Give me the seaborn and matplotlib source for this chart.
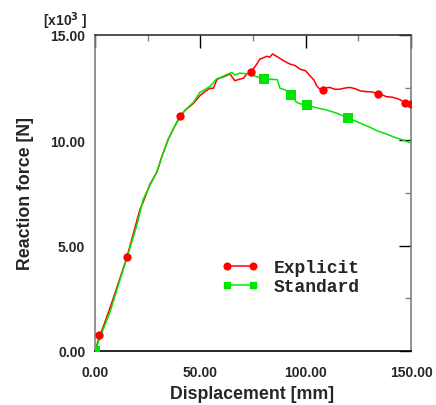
import matplotlib
matplotlib.use("Agg")
import matplotlib.pyplot as plt
from matplotlib.lines import Line2D
from matplotlib.ticker import MultipleLocator, FormatStrFormatter
import seaborn as sns

# Explicit run (force in units of 1e3 N)
explicit_x = [0, 1.9, 5, 8, 11, 15, 18, 21.4, 23, 26, 29.3, 32, 34.8, 37, 40.3, 43, 46.7,
              49.8, 52, 54.6, 56.2, 57.7, 59, 61.7, 64.1, 65.5, 66.4, 68.8, 70.5, 72, 74, 76,
              78.3, 80, 81.5, 83, 84.3, 86, 87.8, 90, 92.5, 95, 97.3, 100, 102, 104, 105.2,
              106.5, 108.1, 110, 111.5, 114, 116.3, 118.5, 121, 123.5, 125.8, 129, 131.5,
              134.2, 136, 138.4, 141, 143.2, 145, 147.1, 148.5, 150]
explicit_y = [0, 0.62, 1.45, 2.3, 3.2, 4.4, 5.5, 6.74, 7.1, 7.9, 8.48, 9.3, 10.06, 10.5, 11.14,
              11.45, 11.75, 12.12, 12.3, 12.47, 12.47, 12.85, 12.95, 13.04, 13.15, 12.95,
              12.83, 12.91, 12.95, 13.15, 13.26, 13.5, 13.86, 13.92, 13.99, 13.95, 14.1,
              14.0, 13.89, 13.75, 13.62, 13.55, 13.38, 13.3, 13.07, 12.85, 12.59, 12.45,
              12.39, 12.5, 12.51, 12.42, 12.43, 12.48, 12.51, 12.45, 12.35, 12.31, 12.3,
              12.21, 12.17, 12.07, 12.05, 11.99, 11.92, 11.77, 11.8, 11.71]
explicit_mx = [1.9, 15.0, 40.3, 74.0, 108.1, 134.2, 147.1, 150]
explicit_my = [0.77, 4.47, 11.14, 13.26, 12.39, 12.21, 11.77, 11.71]

# Standard run
standard_x = [0, 3, 7.1, 11, 15, 19.8, 22.9, 26, 29.3, 32, 34.8, 38, 40.3, 43, 46.7, 49.8,
              52, 54.6, 57.7, 60, 62.5, 64.9, 66.4, 68.8, 72, 76, 80, 83, 86.5, 87.8, 90.2,
              92.9, 95.7, 98, 100.8, 105, 110, 115, 120.1, 125, 130.5, 134, 138.4, 142, 146, 150]
standard_y = [0, 0.8, 1.84, 3.1, 4.37, 5.95, 7.2, 7.85, 8.48, 9.3, 10.06, 10.7, 11.1, 11.45,
              11.8, 12.28, 12.4, 12.56, 12.91, 13.0, 13.12, 13.22, 13.1, 13.19, 13.16, 13.05,
              12.91, 12.9, 12.88, 12.47, 12.4, 12.15, 11.8, 11.72, 11.66, 11.55, 11.44,
              11.28, 11.06, 10.85, 10.62, 10.45, 10.3, 10.15, 10.02, 9.87]
standard_mx = [0, 80, 92.9, 100.8, 120.1]
standard_my = [0, 12.91, 12.15, 11.66, 11.06]

red = "#ff0000"
green = "#00e600"

sns.set_style("white")
plt.rcParams['font.family'] = ['Liberation Sans', 'DejaVu Sans']

fig = plt.figure(figsize=(4.36, 4.06), dpi=100)
ax = fig.add_axes([95 / 436, 54 / 406, 316 / 436, 316 / 406])

sns.lineplot(x=explicit_x, y=explicit_y, color=red, lw=1.1, ax=ax, sort=False)
sns.lineplot(x=standard_x, y=standard_y, color=green, lw=1.1, ax=ax, sort=False)
sns.scatterplot(x=explicit_mx, y=explicit_my, color=red, marker="o", s=36, linewidth=0, ax=ax, zorder=3)
sns.scatterplot(x=standard_mx, y=standard_my, color=green, marker="s", s=42, linewidth=0, ax=ax, zorder=3)

ax.set_xlim(0, 150)
ax.set_ylim(0, 15)
ax.xaxis.set_major_locator(MultipleLocator(50))
ax.xaxis.set_minor_locator(MultipleLocator(25))
ax.yaxis.set_major_locator(MultipleLocator(5))
ax.yaxis.set_minor_locator(MultipleLocator(2.5))
ax.xaxis.set_major_formatter(FormatStrFormatter('%.2f'))
ax.yaxis.set_major_formatter(FormatStrFormatter('%.2f'))

ax.tick_params(which='both', direction='in', top=True, right=True)
ax.tick_params(which='major', length=9, width=1, color='black')
ax.tick_params(which='minor', length=4.5, width=1, color='#808080')
ax.tick_params(axis='x', which='major', pad=10, labelsize=10)
ax.tick_params(axis='y', which='major', pad=7, labelsize=10)
for lab in ax.get_xticklabels() + ax.get_yticklabels():
    lab.set_fontweight('bold')

for side in ['left', 'right']:
    ax.spines[side].set_color('#808080')
ax.spines['top'].set_color('#333333')
ax.spines['bottom'].set_color('black')
for sp in ax.spines.values():
    sp.set_linewidth(1.2)

ax.set_xlabel('Displacement [mm]', fontsize=12.8, fontweight='bold')
ax.set_ylabel('Reaction force [N]', fontsize=12.8, fontweight='bold')
ax.xaxis.set_label_coords(0.498, -0.108)
ax.yaxis.set_label_coords(-0.192, 0.5)

fig.text(43 / 436, 1 - 26 / 406, r'[x10$^{\mathbf{3}}$ ]', fontsize=10, fontweight='bold',
         ha='left', va='baseline')

handles = [Line2D([0], [0], color=red, lw=1.1, marker='o', markersize=4.8),
           Line2D([0], [0], color=green, lw=1.1, marker='s', markersize=5)]
ax.legend(handles, ['Explicit', 'Standard'], loc='center left', numpoints=2,
          bbox_to_anchor=(0.402, 0.234), frameon=False, borderpad=0, borderaxespad=0,
          handlelength=2.0, handletextpad=0.85, labelspacing=0.1,
          prop={'family': 'Liberation Mono', 'size': 13, 'weight': 'bold'})

fig.savefig('out.png', dpi=100)
